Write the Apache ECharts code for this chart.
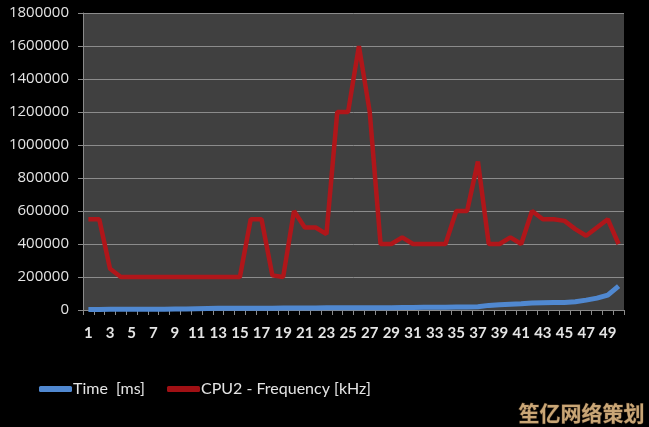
<!DOCTYPE html>
<html><head><meta charset="utf-8">
<script src="https://cdn.jsdelivr.net/npm/echarts@6/dist/echarts.min.js"></script>
<style>html,body{margin:0;padding:0;background:#000;}#c{width:649px;height:427px;}</style>
</head><body><div id="c"></div>
<script>
const categories = Array.from({length: 50}, (_, i) => String(i + 1));
const timeMs = [3000,3000,4000,4000,4000,5000,5000,5000,6000,6000,
  8000,9000,10000,10000,10000,11000,11000,11000,12000,12000,
  12000,12000,13000,13000,13000,13000,13000,13000,14000,15000,
  15000,16000,17000,17000,18000,18000,20000,28000,32000,35000,
  38000,42000,44000,45000,46000,50000,60000,72000,90000,145000];
const cpu2Freq = [550000,550000,250000,200000,200000,200000,200000,200000,200000,200000,
  200000,200000,200000,200000,200000,550000,550000,210000,200000,600000,
  500000,500000,460000,1200000,1200000,1600000,1200000,400000,400000,440000,
  400000,400000,400000,400000,600000,600000,900000,400000,400000,440000,
  400000,600000,550000,550000,540000,490000,450000,500000,550000,400000];
const yTicks = {min: 0, max: 1800000, interval: 200000};
const seriesNames = ['Time  [ms]', 'CPU2 - Frequency [kHz]'];

const chart = echarts.init(document.getElementById('c'), null, {renderer: 'canvas'});
const font = 'Open Sans';
const narrow = 'Lato';
chart.setOption({
  backgroundColor: '#000',
  animation: false,
  grid: {left: 83, right: 25, top: 13, bottom: 117, show: true, backgroundColor: '#404040', borderWidth: 0},
  xAxis: {
    type: 'category', data: categories, boundaryGap: true,
    axisLine: {show: true, lineStyle: {color: '#8a8a8a', width: 1}},
    axisTick: {show: true, interval: 0, length: 5, lineStyle: {color: '#8a8a8a'}},
    axisLabel: {interval: 1, color: '#e4e4e4', fontFamily: narrow, fontSize: 15, fontWeight: 'bold', margin: 16}
  },
  yAxis: {
    type: 'value', min: yTicks.min, max: yTicks.max, interval: yTicks.interval,
    axisLine: {show: true, lineStyle: {color: '#8a8a8a', width: 1}},
    axisTick: {show: true, length: 5, lineStyle: {color: '#8a8a8a'}},
    splitLine: {show: true, lineStyle: {color: '#8c8c8c', width: 1}},
    axisLabel: {color: '#e4e4e4', fontFamily: font, fontSize: 15, margin: 14,
      formatter: v => String(v)}
  },
  legend: {
    show: true, left: 34, top: 376, itemGap: 22, itemWidth: 33, itemHeight: 6,
    icon: 'roundRect',
    textStyle: {color: '#e4e4e4', fontFamily: narrow, fontSize: 16, padding: [0, 0, 0, -4]},
    data: seriesNames
  },
  series: [
    {name: seriesNames[0], type: 'line', data: timeMs, symbol: 'none', smooth: false,
     lineStyle: {color: '#5088d0', width: 5}, itemStyle: {color: '#5088d0'}},
    {name: seriesNames[1], type: 'line', data: cpu2Freq, symbol: 'none', smooth: false,
     lineStyle: {color: '#b0161a', width: 4.5}, itemStyle: {color: '#a01014'}}
  ],
  graphic: [{
    type: 'text', right: 4, bottom: 3,
    style: {text: '笙亿网络策划', fill: '#c9a676', stroke: '#3a2a1a', lineWidth: 1,
      font: 'bold 21px "Noto Sans CJK SC"'}
  }]
});
</script></body></html>
